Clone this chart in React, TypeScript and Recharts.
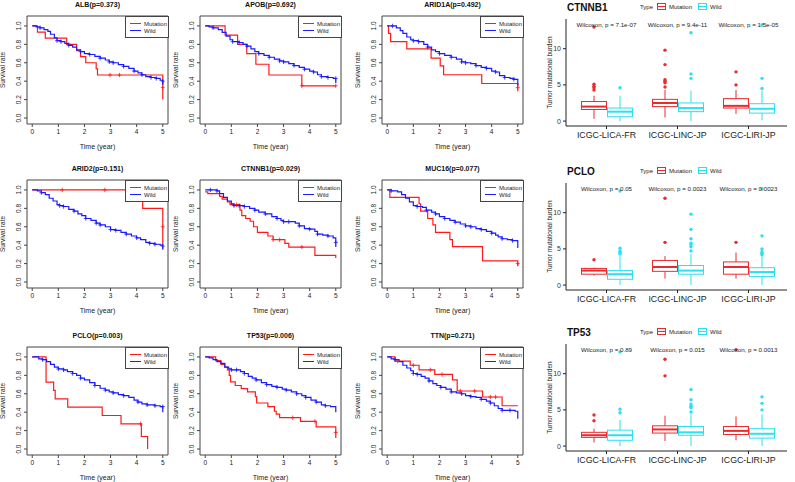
import React from 'react';
import { Bar, ComposedChart, Line, LineChart, ReferenceArea, Scatter, XAxis, YAxis } from 'recharts';

const FONT = '"Liberation Sans", Arial, Helvetica, sans-serif';
const KM_RED = '#FF1A1A';
const KM_BLUE = '#1A1AFF';
const BOX_RED = '#EB2A2E';
const BOX_CYAN = '#2BE0F0';

// Kaplan-Meier curves: [time, survival, censored?]
const albMut = [[0, 1], [0.2, 0.933], [0.5, 0.867], [1.32, 0.8], [1.7, 0.733], [1.85, 0.667], [2.05, 0.6], [2.45, 0.533], [2.5, 0.467], [2.98, 0.467, 1], [3.34, 0.467, 1], [5, 0.467], [5, 0.333, 1], [5, 0.2]];
const albWild = [[0, 1], [0.15, 0.99], [0.3, 0.98, 1], [0.45, 0.96], [0.6, 0.94], [0.7, 0.91], [0.85, 0.87], [0.95, 0.84, 1], [1.1, 0.83, 1], [1.25, 0.81], [1.4, 0.79, 1], [1.55, 0.77], [1.7, 0.74], [1.85, 0.72, 1], [2.0, 0.7], [2.2, 0.69, 1], [2.4, 0.67], [2.6, 0.65, 1], [2.8, 0.63], [2.95, 0.61, 1], [3.1, 0.6, 1], [3.3, 0.58], [3.5, 0.56, 1], [3.7, 0.54], [3.9, 0.51, 1], [4.05, 0.49], [4.2, 0.47, 1], [4.35, 0.45], [4.55, 0.44, 1], [4.75, 0.43, 1], [4.9, 0.41], [5, 0.4, 1], [5, 0.36]];
const apobMut = [[0, 1], [0.76, 0.9], [1.24, 0.8], [1.59, 0.7], [1.94, 0.584], [2.44, 0.467], [3.7, 0.35, 1], [5, 0.35, 1]];
const apobWild = [[0, 1], [0.15, 0.99], [0.3, 0.98, 1], [0.5, 0.96], [0.65, 0.93], [0.8, 0.89], [0.95, 0.85], [1.05, 0.83, 1], [1.3, 0.82, 1], [1.45, 0.8], [1.6, 0.78, 1], [1.75, 0.75], [1.9, 0.72], [2.05, 0.7, 1], [2.25, 0.68], [2.45, 0.66, 1], [2.65, 0.64], [2.85, 0.62, 1], [3.0, 0.61, 1], [3.2, 0.59], [3.4, 0.57, 1], [3.6, 0.55], [3.8, 0.53, 1], [4.0, 0.51], [4.15, 0.5, 1], [4.3, 0.47], [4.45, 0.45, 1], [4.7, 0.44, 1], [4.9, 0.43], [5, 0.43, 1], [5, 0.38]];
const arid1aMut = [[0, 1], [0.05, 0.92], [0.13, 0.83], [0.75, 0.75], [1.68, 0.65], [2.03, 0.567], [2.16, 0.47], [3.62, 0.375], [5, 0.375], [5, 0.33, 1], [5, 0.29]];
const arid1aWild = [[0, 1], [0.2, 1, 1], [0.35, 0.98], [0.5, 0.95], [0.6, 0.92], [0.75, 0.88], [0.9, 0.85], [1.0, 0.84, 1], [1.2, 0.83, 1], [1.4, 0.8], [1.55, 0.77, 1], [1.7, 0.74], [1.85, 0.72], [2.0, 0.7, 1], [2.2, 0.68], [2.45, 0.66, 1], [2.65, 0.64], [2.85, 0.61, 1], [3.0, 0.6, 1], [3.2, 0.59], [3.4, 0.57, 1], [3.6, 0.55], [3.8, 0.54, 1], [4.0, 0.51], [4.15, 0.5, 1], [4.3, 0.46], [4.5, 0.44, 1], [4.7, 0.43], [4.85, 0.42, 1], [5, 0.42], [5, 0.35]];
const arid2Mut = [[0, 1], [1.15, 1, 1], [2.78, 1, 1], [4.23, 0.8], [5, 0.8], [5, 0.6, 1], [5, 0.4]];
const arid2Wild = [[0, 1], [0.2, 0.99], [0.35, 0.97, 1], [0.5, 0.95], [0.65, 0.91], [0.8, 0.88], [0.95, 0.84], [1.05, 0.83, 1], [1.2, 0.82, 1], [1.4, 0.79], [1.6, 0.77, 1], [1.75, 0.74], [1.9, 0.72], [2.05, 0.69, 1], [2.25, 0.67], [2.45, 0.64, 1], [2.6, 0.62, 1], [2.8, 0.6], [3.0, 0.57, 1], [3.2, 0.56, 1], [3.4, 0.54], [3.6, 0.52, 1], [3.8, 0.5], [4.0, 0.48, 1], [4.15, 0.46], [4.35, 0.43], [4.5, 0.42, 1], [4.7, 0.41, 1], [4.9, 0.4], [5, 0.39, 1], [5, 0.35]];
const ctnnb1Mut = [[0, 0.98], [0.1, 0.96], [0.55, 0.93], [0.65, 0.9], [0.85, 0.87], [0.95, 0.84], [1.2, 0.84, 1], [1.33, 0.78], [1.4, 0.72], [1.55, 0.69], [1.72, 0.66], [1.85, 0.6], [2.0, 0.54], [2.4, 0.5], [2.6, 0.46, 1], [2.85, 0.46, 1], [3.05, 0.42], [3.2, 0.38], [3.7, 0.38, 1], [4.2, 0.29], [4.6, 0.29], [5, 0.28], [5, 0.26]];
const ctnnb1Wild = [[0, 1], [0.2, 1, 1], [0.45, 0.99, 1], [0.55, 0.96], [0.7, 0.92], [0.85, 0.88], [1.0, 0.85], [1.1, 0.83, 1], [1.3, 0.83, 1], [1.5, 0.82, 1], [1.7, 0.8], [1.9, 0.78, 1], [2.05, 0.76], [2.3, 0.74, 1], [2.55, 0.71], [2.75, 0.69, 1], [2.9, 0.67], [3.0, 0.655, 1], [3.2, 0.655, 1], [3.45, 0.64], [3.6, 0.61, 1], [3.8, 0.58], [4.0, 0.575, 1], [4.2, 0.55], [4.3, 0.52, 1], [4.5, 0.51], [4.7, 0.5, 1], [4.9, 0.48], [5, 0.48], [5, 0.43, 1], [5, 0.38]];
const muc16Mut = [[0, 1], [0.1, 0.92], [1.22, 0.85], [1.28, 0.77], [1.55, 0.69], [1.75, 0.62], [1.85, 0.54], [2.4, 0.46], [2.5, 0.385], [3.65, 0.23], [5, 0.23], [5, 0.2, 1], [5, 0.17]];
const muc16Wild = [[0, 1], [0.15, 0.99, 1], [0.4, 0.98], [0.55, 0.95], [0.7, 0.91], [0.85, 0.87], [1.0, 0.83], [1.15, 0.82, 1], [1.35, 0.81], [1.5, 0.78, 1], [1.7, 0.76], [1.85, 0.74, 1], [2.0, 0.71], [2.2, 0.69, 1], [2.4, 0.67], [2.6, 0.65, 1], [2.8, 0.63], [3.0, 0.61, 1], [3.2, 0.6, 1], [3.4, 0.58], [3.6, 0.57, 1], [3.8, 0.55], [4.0, 0.53, 1], [4.15, 0.51], [4.25, 0.49], [4.4, 0.47, 1], [4.6, 0.46], [4.8, 0.45, 1], [5, 0.44], [5, 0.37]];
const pcloMut = [[0, 1], [0.53, 0.727], [0.82, 0.636], [0.88, 0.545], [1.36, 0.455], [2.68, 0.364], [3.4, 0.273], [4.15, 0.273, 1], [4.18, 0.136], [4.42, 0]];
const pcloWild = [[0, 1], [0.25, 0.98], [0.4, 0.97, 1], [0.55, 0.95], [0.7, 0.92], [0.85, 0.89], [1.0, 0.87, 1], [1.2, 0.86, 1], [1.35, 0.84], [1.55, 0.82, 1], [1.7, 0.8], [1.85, 0.77, 1], [2.0, 0.75], [2.2, 0.72], [2.4, 0.69, 1], [2.6, 0.66], [2.8, 0.64, 1], [2.95, 0.62], [3.1, 0.61, 1], [3.3, 0.59], [3.5, 0.58, 1], [3.7, 0.56], [3.9, 0.53], [4.05, 0.51, 1], [4.2, 0.49], [4.4, 0.48, 1], [4.7, 0.47, 1], [4.9, 0.46], [5, 0.46, 1], [5, 0.4]];
const tp53Mut = [[0, 1], [0.4, 0.96], [0.6, 0.92], [0.75, 0.89], [0.85, 0.86], [0.92, 0.8], [0.97, 0.73], [1.15, 0.69], [1.38, 0.655], [1.62, 0.62], [1.92, 0.57], [1.97, 0.5], [2.4, 0.46], [2.65, 0.41], [2.72, 0.38], [2.85, 0.34], [3.35, 0.34, 1], [3.65, 0.3], [4.2, 0.3, 1], [4.25, 0.24], [5, 0.24], [5, 0.18, 1], [5, 0.12]];
const tp53Wild = [[0, 1], [0.15, 0.99], [0.3, 0.97], [0.45, 0.95], [0.6, 0.93], [0.75, 0.89], [0.9, 0.87], [1.0, 0.86, 1], [1.2, 0.86, 1], [1.35, 0.84], [1.5, 0.82, 1], [1.65, 0.79], [1.8, 0.77], [1.95, 0.75, 1], [2.15, 0.72], [2.35, 0.7, 1], [2.55, 0.68], [2.75, 0.67, 1], [2.95, 0.65], [3.1, 0.64, 1], [3.3, 0.62], [3.5, 0.6, 1], [3.7, 0.58], [3.85, 0.56, 1], [4.05, 0.53], [4.25, 0.51, 1], [4.45, 0.48], [4.6, 0.47, 1], [4.8, 0.46], [5, 0.46], [5, 0.4]];
const ttnMut = [[0, 1], [0.3, 0.955], [0.4, 0.955, 1], [0.88, 0.91], [1.0, 0.91, 1], [1.22, 0.86], [1.65, 0.86, 1], [1.82, 0.81], [2.1, 0.81, 1], [2.5, 0.75], [2.68, 0.63], [2.8, 0.63, 1], [3.35, 0.63, 1], [3.65, 0.565], [3.95, 0.565, 1], [4.15, 0.565, 1], [4.4, 0.47], [5, 0.47]];
const ttnWild = [[0, 1], [0.15, 0.98], [0.3, 0.97, 1], [0.45, 0.95], [0.6, 0.91], [0.75, 0.88], [0.9, 0.85], [1.0, 0.82, 1], [1.15, 0.81, 1], [1.3, 0.79], [1.45, 0.77], [1.6, 0.74, 1], [1.75, 0.71], [1.9, 0.69], [2.05, 0.67, 1], [2.25, 0.65], [2.45, 0.62, 1], [2.65, 0.61], [2.85, 0.6, 1], [3.0, 0.58], [3.2, 0.57, 1], [3.4, 0.56], [3.6, 0.54, 1], [3.8, 0.52], [3.95, 0.5, 1], [4.1, 0.47], [4.25, 0.44], [4.4, 0.42, 1], [4.7, 0.42, 1], [4.9, 0.41], [5, 0.41], [5, 0.33]];

const kmTitles = ['ALB(p=0.373)', 'APOB(p=0.692)', 'ARID1A(p=0.492)', 'ARID2(p=0.151)', 'CTNNB1(p=0.029)', 'MUC16(p=0.077)', 'PCLO(p=0.003)', 'TP53(p=0.006)', 'TTN(p=0.271)'];
const kmCurves = [
  [albMut, albWild], [apobMut, apobWild], [arid1aMut, arid1aWild],
  [arid2Mut, arid2Wild], [ctnnb1Mut, ctnnb1Wild], [muc16Mut, muc16Wild],
  [pcloMut, pcloWild], [tp53Mut, tp53Wild], [ttnMut, ttnWild],
];
const timeTicks = [0, 1, 2, 3, 4, 5];
const survTicks = [0, 0.2, 0.4, 0.6, 0.8, 1];

// Tumor mutational burden boxplots: [lower whisker, Q1, median, Q3, upper whisker]
const cohorts = ['ICGC-LICA-FR', 'ICGC-LINC-JP', 'ICGC-LIRI-JP'];
const ctnnb1BoxMut = [[0.3, 1.6, 2.0, 2.7, 3.5], [0.5, 2.0, 2.5, 3.0, 4.3], [1.0, 1.8, 2.1, 3.1, 4.3]];
const ctnnb1OutMut = [[4.3, 4.6, 4.8, 5.1, 13.0], [4.7, 5.3, 5.5, 5.7, 7.8, 9.8], [5.0, 6.8]];
const ctnnb1BoxWild = [[0, 0.6, 1.3, 1.8, 3.5], [0, 1.3, 1.8, 2.5, 4.2], [0.1, 1.1, 1.7, 2.4, 4.2]];
const ctnnb1OutWild = [[4.6], [5.9, 6.5, 12.2], [4.5, 5.9, 13.3]];
const ctnnb1P = ['7.1e-07', '9.4e-11', '1.5e-05'];
const pcloBoxMut = [[1.3, 1.5, 2.0, 2.3, 2.4], [0.9, 1.9, 2.5, 3.4, 4.0], [0.9, 1.5, 2.5, 3.2, 4.5]];
const pcloOutMut = [[3.5], [5.9, 12.0], [5.9]];
const pcloBoxWild = [[0, 0.8, 1.5, 2.0, 4.0], [0, 1.5, 2.0, 2.7, 4.3], [0, 1.2, 1.8, 2.4, 4.0]];
const pcloOutWild = [[4.3, 4.5, 4.7, 5.1, 13.0], [4.7, 5.3, 5.6, 5.8, 6.4, 7.7, 9.8], [4.2, 4.4, 4.6, 5.0, 6.8, 13.3]];
const pcloP = ['0.05', '0.0023', '0.0023'];
const tp53BoxMut = [[0.5, 1.2, 1.5, 1.9, 2.4], [0.7, 1.8, 2.3, 2.8, 4.2], [0.8, 1.6, 2.1, 2.7, 4.1]];
const tp53OutMut = [[3.5, 4.3], [9.7, 12.0], [13.3]];
const tp53BoxWild = [[0, 0.8, 1.5, 2.2, 3.6], [0, 1.5, 1.9, 2.7, 4.4], [0, 1.1, 1.7, 2.4, 4.4]];
const tp53OutWild = [[4.6, 5.1, 13.0], [4.7, 5.3, 5.5, 5.8, 6.4, 7.8], [5.0, 5.9, 6.8]];
const tp53P = ['0.89', '0.015', '0.0013'];

const toPts = (arr: number[][]) => arr.map(([t, s, c]) => ({ t, s, c: !!c }));

const censorDot = (color: string) => (props: any) => {
  const { cx, cy, payload, index } = props;
  if (!payload || !payload.c) return <g key={`n${index}`} />;
  return (
    <path key={`c${index}`} d={`M${cx - 2},${cy}h4M${cx},${cy - 2.2}v4.4`} stroke={color} strokeWidth={0.8} fill="none" />
  );
};

const RotTick = (props: any) => {
  const { x, y, payload } = props;
  return (
    <text x={x} y={y} transform={`rotate(-90 ${x} ${y})`} textAnchor="middle" fontSize={6.5} fill="#222" fontFamily={FONT}>
      {Number(payload.value).toFixed(1)}
    </text>
  );
};

const KM_W = 141;
const KM_X: [number, number] = [-0.2, 5.2];
const KM_Y: [number, number] = [-0.065, 1.108];

function KMPanel({ title, mut, wild, left, top, h }: any) {
  const mData = toPts(mut);
  const wData = toPts(wild);
  return (
    <div style={{ position: 'absolute', left: left - 27, top: top - 16 }}>
      <div style={{ position: 'absolute', left: 27, top: 1, width: KM_W, textAlign: 'center', fontWeight: 'bold', fontSize: 7, color: '#111' }}>
        {title}
      </div>
      <LineChart width={27 + KM_W + 4} height={16 + h + 34} margin={{ top: 16, right: 4, left: 0, bottom: 0 }}>
        <XAxis
          type="number"
          dataKey="t"
          domain={KM_X}
          ticks={timeTicks}
          interval={0}
          allowDataOverflow
          axisLine={false}
          tickSize={3}
          tickMargin={2}
          height={34}
          tick={{ fontSize: 6.5, fill: '#222', fontFamily: FONT }}
          tickLine={{ stroke: '#444' }}
          label={{ value: 'Time (year)', position: 'insideBottom', offset: 9, fontSize: 7, fill: '#222', fontFamily: FONT }}
        />
        <YAxis
          type="number"
          domain={KM_Y}
          ticks={survTicks}
          interval={0}
          allowDataOverflow
          axisLine={false}
          width={27}
          tickSize={3}
          tickMargin={3}
          tick={RotTick}
          tickLine={{ stroke: '#444' }}
          label={{ value: 'Survival rate', angle: -90, position: 'insideLeft', offset: 3, fontSize: 6.5, fill: '#222', fontFamily: FONT, style: { textAnchor: 'middle' } }}
        />
        <ReferenceArea x1={KM_X[0]} x2={KM_X[1]} y1={KM_Y[0]} y2={KM_Y[1]} fill="none" stroke="#444" strokeWidth={1} ifOverflow="visible" />
        <Line data={mData} dataKey="s" type="stepAfter" stroke={KM_RED} strokeWidth={1.2} dot={censorDot(KM_RED)} activeDot={false} isAnimationActive={false} />
        <Line data={wData} dataKey="s" type="stepAfter" stroke={KM_BLUE} strokeWidth={1.2} dot={censorDot(KM_BLUE)} activeDot={false} isAnimationActive={false} />
      </LineChart>
      <div
        style={{
          position: 'absolute', left: 27 + KM_W - 43, top: 16, width: 42, height: 20,
          border: '1px solid #444', background: '#fff', fontSize: 6, color: '#222',
        }}
      >
        {[['Mutation', KM_RED], ['Wild', KM_BLUE]].map(([name, c], i) => (
          <div key={name} style={{ position: 'absolute', left: 4, top: 3 + i * 7, display: 'flex', alignItems: 'center', height: 7 }}>
            <span style={{ display: 'inline-block', width: 11, height: 1.3, background: c, marginRight: 3 }} />
            <span>{name}</span>
          </div>
        ))}
      </div>
    </div>
  );
}

const boxShape = (statsKey: string, outKey: string, color: string) => (props: any) => {
  const { x, y, width, height, payload } = props;
  const st: number[] = payload[statsKey];
  const out: number[] = payload[outKey];
  const [lo, q1, med, q3, hi] = st;
  const py = (v: number) => y + (height * (hi - v)) / (hi - lo);
  const cx = x + width / 2;
  return (
    <g>
      <line x1={cx} x2={cx} y1={py(lo)} y2={py(q1)} stroke={color} strokeWidth={1} />
      <line x1={cx} x2={cx} y1={py(q3)} y2={py(hi)} stroke={color} strokeWidth={1} />
      <rect x={x + 0.5} y={py(q3)} width={width - 1} height={py(q1) - py(q3)} fill="#fff" stroke={color} strokeWidth={1} />
      <line x1={x + 0.5} x2={x + width - 0.5} y1={py(med)} y2={py(med)} stroke={color} strokeWidth={2} />
      {out.map((v, i) => (
        <circle key={i} cx={cx} cy={py(v)} r={1.7} fill={color} />
      ))}
    </g>
  );
};

const TMB_Y: [number, number] = [-0.68, 14.1];

function BoxPanel({ gene, boxMut, outMut, boxWild, outWild, pvals, plotTop }: any) {
  const allVals = [...boxMut.flat(), ...outMut.flat(), ...boxWild.flat(), ...outWild.flat()];
  const labelY = Math.max(...allVals);
  const rows = cohorts.map((c, i) => ({
    cohort: c,
    mut: [boxMut[i][0], boxMut[i][4]],
    wild: [boxWild[i][0], boxWild[i][4]],
    mStats: boxMut[i],
    wStats: boxWild[i],
    mOut: outMut[i],
    wOut: outWild[i],
    labelY,
    p: pvals[i],
  }));
  const top = plotTop - 19;
  return (
    <div style={{ position: 'absolute', left: 530, top }}>
      <div style={{ position: 'absolute', left: 37, top: 2, fontWeight: 'bold', fontSize: 10, color: '#111' }}>{gene}</div>
      <div style={{ position: 'absolute', left: 110, top: 3, display: 'flex', alignItems: 'center', fontSize: 6, color: '#222' }}>
        <span style={{ marginRight: 4 }}>Type</span>
        {[['Mutation', BOX_RED], ['Wild', BOX_CYAN]].map(([name, c]) => (
          <span key={name} style={{ display: 'flex', alignItems: 'center', marginRight: 6 }}>
            <span style={{ position: 'relative', display: 'inline-block', width: 9, height: 7, border: `1px solid ${c}`, marginRight: 3, boxSizing: 'border-box' }}>
              <span style={{ position: 'absolute', left: 0, right: 0, top: 2, height: 1, background: c }} />
            </span>
            <span>{name}</span>
          </span>
        ))}
      </div>
      <ComposedChart width={265} height={19 + 107 + 36} data={rows} margin={{ top: 19, right: 8, left: 0, bottom: 0 }} barGap={0}>
        <XAxis
          dataKey="cohort"
          height={36}
          tickSize={3}
          tickMargin={3}
          padding={{ left: 5, right: 3 }}
          axisLine={{ stroke: '#222' }}
          tickLine={{ stroke: '#222' }}
          tick={{ fontSize: 8.8, fill: '#222', fontFamily: FONT }}
          interval={0}
        />
        <YAxis
          type="number"
          domain={TMB_Y}
          ticks={[0, 5, 10]}
          interval={0}
          allowDataOverflow
          width={36}
          tickSize={3}
          tickMargin={2}
          axisLine={{ stroke: '#222' }}
          tickLine={{ stroke: '#222' }}
          tick={{ fontSize: 7, fill: '#333', fontFamily: FONT }}
          label={{ value: 'Tumor mutational burden', angle: -90, position: 'insideLeft', offset: 20, fontSize: 6.5, fill: '#222', fontFamily: FONT, style: { textAnchor: 'middle' } }}
        />
        <Bar dataKey="mut" barSize={26} shape={boxShape('mStats', 'mOut', BOX_RED)} isAnimationActive={false} />
        <Bar dataKey="wild" barSize={26} shape={boxShape('wStats', 'wOut', BOX_CYAN)} isAnimationActive={false} />
        <Scatter
          dataKey="labelY"
          isAnimationActive={false}
          shape={(p: any) => (
            <text x={p.cx} y={p.cy} dy={2} textAnchor="middle" fontSize={6.2} fill="#222" fontFamily={FONT}>
              {`Wilcoxon, p = ${p.payload.p}`}
            </text>
          )}
        />
      </ComposedChart>
    </div>
  );
}

const kmLefts = [27, 200, 382];
const kmTops = [16, 180, 347];

export default function App() {
  return (
    <div style={{ position: 'absolute', left: 0, top: 0, width: 795, height: 482, background: '#fff', fontFamily: FONT, overflow: 'hidden' }}>
      {kmCurves.map(([mut, wild], i) => (
        <KMPanel
          key={kmTitles[i]}
          title={kmTitles[i]}
          mut={mut}
          wild={wild}
          left={kmLefts[i % 3]}
          top={kmTops[Math.floor(i / 3)]}
          h={108}
        />
      ))}
      <BoxPanel gene="CTNNB1" boxMut={ctnnb1BoxMut} outMut={ctnnb1OutMut} boxWild={ctnnb1BoxWild} outWild={ctnnb1OutWild} pvals={ctnnb1P} plotTop={19} />
      <BoxPanel gene="PCLO" boxMut={pcloBoxMut} outMut={pcloOutMut} boxWild={pcloBoxWild} outWild={pcloOutWild} pvals={pcloP} plotTop={183} />
      <BoxPanel gene="TP53" boxMut={tp53BoxMut} outMut={tp53OutMut} boxWild={tp53BoxWild} outWild={tp53OutWild} pvals={tp53P} plotTop={344} />
    </div>
  );
}
